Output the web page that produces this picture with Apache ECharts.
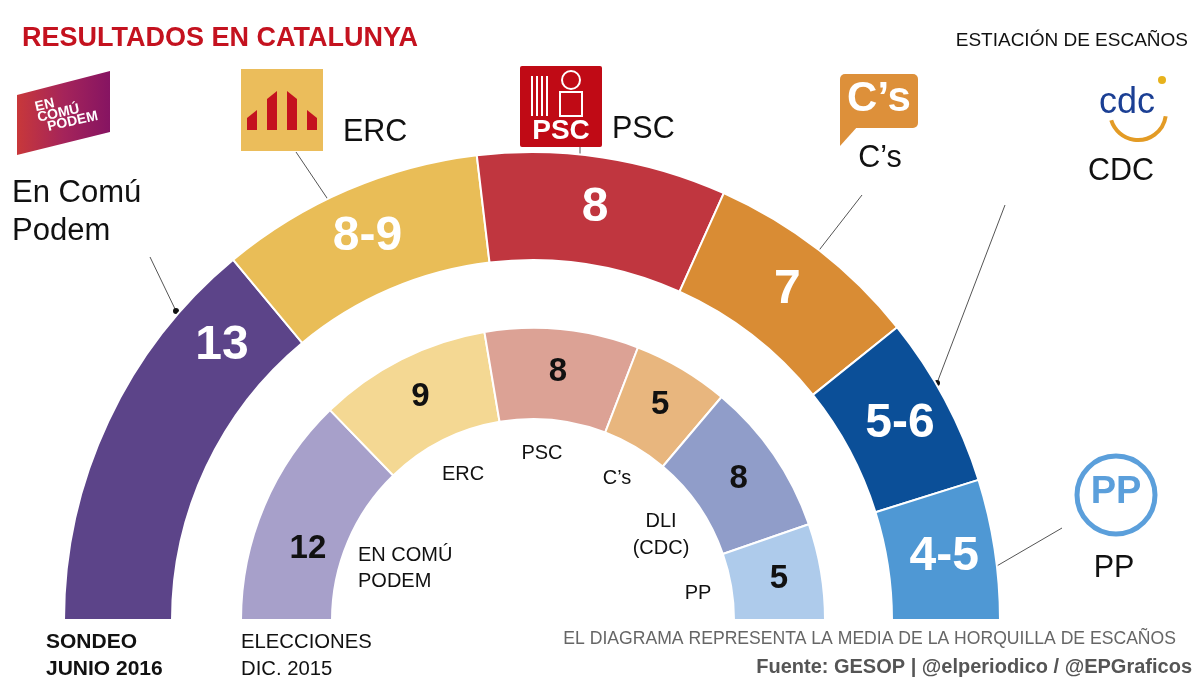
<!DOCTYPE html>
<html><head><meta charset="utf-8">
<script src="https://cdn.jsdelivr.net/npm/echarts@6/dist/echarts.min.js"></script>
<style>html,body{margin:0;padding:0;background:#fff}#c{width:1200px;height:687px}</style>
</head><body><div id="c"></div>
<script>
// ---- data ----
const parties = ['En Comú Podem', 'ERC', 'PSC', "C's", 'CDC', 'PP'];
const sondeoValues = [13, 8.5, 8, 7, 5.5, 4.5];          // media de la horquilla
const sondeoLabels = ['13', '8-9', '8', '7', '5-6', '4-5'];
const eleccionesNames = ['EN COMÚ PODEM', 'ERC', 'PSC', "C's", 'DLI (CDC)', 'PP'];
const eleccionesValues = [12, 9, 8, 5, 8, 5];
const eleccionesLabels = ['12', '9', '8', '5', '8', '5'];

const outerColors = ['#5c4489', '#e9bd57', '#c0363f', '#d98c34', '#0b4f98', '#4f98d4'];
const innerColors = ['#a7a0ca', '#f4d893', '#dca295', '#e8b67e', '#909dc9', '#aecbeb'];

const FONT = '"Liberation Sans", Arial, sans-serif';
const NARROW = '"Liberation Sans Narrow", "Liberation Sans", Arial, sans-serif';
const CX = 532, CY = 620;

const chart = echarts.init(document.getElementById('c'), null, {renderer: 'canvas'});

function moveLabel(idx, angleDeg, r, cx, cy) {
  return function (p) {
    if (p.dataIndex !== idx) return {};
    const a = angleDeg * Math.PI / 180;
    const tx = cx + r * Math.cos(a), ty = cy - r * Math.sin(a);
    const lx = p.labelRect.x + p.labelRect.width / 2, ly = p.labelRect.y + p.labelRect.height / 2;
    return {dx: tx - lx, dy: ty - ly};
  };
}

const T = (x, y, text, style) => ({type: 'text', x, y, style: Object.assign({text, fontFamily: FONT, fill: '#111'}, style)});
const L = (x1, y1, x2, y2) => ({type: 'line', shape: {x1, y1, x2, y2}, style: {stroke: '#555', lineWidth: 1}});
const D = (x, y) => ({type: 'circle', shape: {cx: x, cy: y, r: 3}, style: {fill: '#111'}});

const graphics = [
  T(22, 25, 'RESULTADOS EN CATALUNYA', {fontSize: 27, fontWeight: 'bold', fill: '#c4121f'}),
  T(1188, 31, 'ESTIACIÓN DE ESCAÑOS', {fontSize: 19, fontFamily: NARROW, textAlign: 'right'}),
  // En Comú Podem logo
  {type: 'polygon', shape: {points: [[17, 95], [110, 71], [110, 132], [17, 155]]},
    style: {fill: new echarts.graphic.LinearGradient(0, 0, 1, 0, [{offset: 0, color: '#c8383a'}, {offset: 0.5, color: '#a5245a'}, {offset: 1, color: '#861462'}])}},
  {type: 'text', x: 34, y: 102, rotation: 0.22, style: {text: 'EN\nCOMÚ\n  PODEM', fontSize: 14, lineHeight: 11, fontWeight: 'bold', fontFamily: FONT, fill: '#fff'}},
  T(12, 174, 'En Comú\nPodem', {fontSize: 31, lineHeight: 38}),
  // ERC logo
  {type: 'rect', shape: {x: 241, y: 69, width: 82, height: 82}, style: {fill: '#ebbd5b'}},
  {type: 'polygon', shape: {points: [[247, 130], [247, 118], [257, 110], [257, 130]]}, style: {fill: '#c4121f'}},
  {type: 'polygon', shape: {points: [[267, 130], [267, 99], [277, 91], [277, 130]]}, style: {fill: '#c4121f'}},
  {type: 'polygon', shape: {points: [[287, 130], [287, 91], [297, 99], [297, 130]]}, style: {fill: '#c4121f'}},
  {type: 'polygon', shape: {points: [[307, 130], [307, 110], [317, 118], [317, 130]]}, style: {fill: '#c4121f'}},
  T(343, 117, 'ERC', {fontSize: 30.5}),
  // PSC logo
  {type: 'rect', shape: {x: 520, y: 66, width: 82, height: 81, r: 2}, style: {fill: '#c00a15'}},
  {type: 'rect', shape: {x: 531, y: 76, width: 2, height: 40}, style: {fill: '#fff'}},
  {type: 'rect', shape: {x: 536, y: 76, width: 2, height: 40}, style: {fill: '#fff'}},
  {type: 'rect', shape: {x: 541, y: 76, width: 2, height: 40}, style: {fill: '#fff'}},
  {type: 'rect', shape: {x: 546, y: 76, width: 2, height: 40}, style: {fill: '#fff'}},
  {type: 'circle', shape: {cx: 571, cy: 80, r: 9}, style: {fill: 'none', stroke: '#fff', lineWidth: 2}},
  {type: 'rect', shape: {x: 560, y: 92, width: 22, height: 24}, style: {fill: 'none', stroke: '#fff', lineWidth: 2}},
  T(561, 117, 'PSC', {fontSize: 28, fontWeight: 'bold', fill: '#fff', textAlign: 'center', fontFamily: NARROW}),
  T(612, 114, 'PSC', {fontSize: 30.5}),
  // C's logo
  {type: 'rect', shape: {x: 840, y: 74, width: 78, height: 54, r: 5}, style: {fill: '#dd903a'}},
  {type: 'polygon', shape: {points: [[840, 120], [840, 146], [858, 126]]}, style: {fill: '#dd903a'}},
  T(879, 78, "C’s", {fontSize: 42, fontWeight: 'bold', fill: '#fff', textAlign: 'center', fontFamily: NARROW}),
  T(880, 143, "C’s", {fontSize: 30.5, textAlign: 'center'}),
  // CDC logo
  T(1127, 85, 'cdc', {fontSize: 36, fill: '#1b3f94', textAlign: 'center', fontFamily: NARROW}),
  {type: 'circle', shape: {cx: 1162, cy: 80, r: 4}, style: {fill: '#e7b21c'}},
  {type: 'arc', shape: {cx: 1138, cy: 112, r: 28, startAngle: 0.15, endAngle: Math.PI - 0.3}, style: {stroke: '#e39b25', lineWidth: 4, fill: 'none'}},
  T(1121, 156, 'CDC', {fontSize: 30.5, textAlign: 'center'}),
  // PP logo
  {type: 'circle', shape: {cx: 1116, cy: 495, r: 39}, style: {fill: 'none', stroke: '#5b9fdb', lineWidth: 5}},
  T(1116, 474, 'PP', {fontSize: 38, fontWeight: 'bold', fill: '#5b9fdb', textAlign: 'center', fontFamily: NARROW}),
  T(1114, 553, 'PP', {fontSize: 30.5, textAlign: 'center'}),
  // leader lines
  L(150, 257, 176, 311), D(176, 311),
  L(296, 152, 329, 201), D(329, 201),
  L(580, 147, 580, 157), D(580, 157),
  L(862, 195, 806, 267), D(806, 267),
  L(1005, 205, 937, 383), D(937, 383),
  L(1062, 528, 995, 567), D(995, 567),
  // inner labels
  T(358, 542, 'EN COMÚ\nPODEM', {fontSize: 20, lineHeight: 26}),
  T(463, 474, 'ERC', {fontSize: 20, textAlign: 'center', verticalAlign: 'middle'}),
  T(542, 453, 'PSC', {fontSize: 20, textAlign: 'center', verticalAlign: 'middle'}),
  T(617, 478, "C’s", {fontSize: 20, textAlign: 'center', verticalAlign: 'middle'}),
  T(661, 508, 'DLI\n(CDC)', {fontSize: 20, lineHeight: 27, textAlign: 'center'}),
  T(698, 593, 'PP', {fontSize: 20, textAlign: 'center', verticalAlign: 'middle'}),
  // bottom texts
  T(46, 629, 'SONDEO\nJUNIO 2016', {fontSize: 21, lineHeight: 27, fontWeight: 'bold'}),
  T(241, 629, 'ELECCIONES\nDIC. 2015', {fontSize: 20.3, lineHeight: 27}),
  T(1176, 630, 'EL DIAGRAMA REPRESENTA LA MEDIA DE LA HORQUILLA DE ESCAÑOS', {fontSize: 17.6, fill: '#666', textAlign: 'right', fontFamily: NARROW}),
  T(1192, 657, 'Fuente: GESOP | @elperiodico / @EPGraficos', {fontSize: 20, fill: '#555', fontWeight: 'bold', textAlign: 'right'})
];

chart.setOption({
  animation: false,
  backgroundColor: '#fff',
  series: [
    {
      type: 'pie', name: 'Sondeo junio 2016',
      center: [CX, CY], radius: [360, 468],
      startAngle: 180, endAngle: 0, clockwise: true,
      silent: true,
      itemStyle: {borderColor: '#fff', borderWidth: 2},
      label: {
        show: true, position: 'inside',
        formatter: p => sondeoLabels[p.dataIndex],
        fontFamily: FONT, fontSize: 48, fontWeight: 'bold', color: '#fff'
      },
      labelLine: {show: false},
      labelLayout: moveLabel(0, 138.5, 414, CX, CY),
      data: parties.map((n, i) => ({name: n, value: sondeoValues[i], itemStyle: {color: outerColors[i]}}))
    },
    {
      type: 'pie', name: 'Elecciones dic. 2015',
      center: [CX + 1, CY], radius: [201, 292],
      startAngle: 180, endAngle: 0, clockwise: true,
      silent: true,
      itemStyle: {borderColor: '#fff', borderWidth: 2},
      label: {
        show: true, position: 'inside',
        formatter: p => eleccionesLabels[p.dataIndex],
        fontFamily: FONT, fontSize: 33, fontWeight: 'bold', color: '#111'
      },
      labelLine: {show: false},
      labelLayout: moveLabel(0, 162.5, 236, CX + 1, CY),
      data: eleccionesNames.map((n, i) => ({name: n, value: eleccionesValues[i], itemStyle: {color: innerColors[i]}}))
    }
  ],
  graphic: graphics
});
</script></body></html>
